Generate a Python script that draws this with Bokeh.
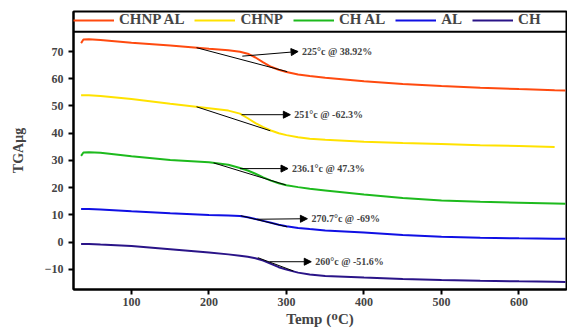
from bokeh.plotting import figure
from bokeh.models import Legend, LegendItem, Arrow, NormalHead, Label, FixedTicker, Span
from bokeh.embed import file_html
from bokeh.resources import INLINE

nan = float("nan")

# ---- data ----
temp    = [35, 38, 45, 60, 100, 150, 200, 225, 240, 250, 260, 270, 280, 290, 300, 315, 330, 350, 400, 450, 500, 550, 600, 646, 660]
chnp_al = [73.1, 74.4, 74.5, 74.2, 73.2, 72.2, 71.0, 70.5, 69.9, 69.2, 67.8, 66.0, 64.4, 63.3, 62.5, 61.6, 61.0, 60.4, 59.1, 58.1, 57.3, 56.7, 56.2, 55.8, 55.7]
chnp    = [53.9, 53.9, 53.9, 53.7, 52.6, 50.8, 49.2, 48.3, 47.2, 45.5, 43.7, 42.2, 41.0, 40.0, 39.3, 38.5, 38.0, 37.6, 36.9, 36.4, 36.0, 35.6, 35.3, 34.9, nan]
ch_al   = [31.7, 32.9, 33.0, 32.8, 31.5, 30.2, 29.3, 28.4, 27.2, 26.3, 25.1, 23.8, 22.6, 21.6, 20.9, 20.2, 19.6, 19.0, 17.5, 16.2, 15.3, 14.8, 14.5, 14.2, 14.1]
al      = [12.2, 12.2, 12.2, 12.0, 11.3, 10.6, 10.0, 9.8, 9.6, 9.1, 8.5, 7.8, 7.1, 6.4, 5.8, 5.2, 4.8, 4.3, 3.5, 2.6, 2.0, 1.6, 1.4, 1.25, 1.2]
ch      = [-0.7, -0.7, -0.7, -0.9, -1.4, -2.6, -3.8, -4.5, -5.0, -5.4, -5.9, -6.8, -8.0, -9.2, -10.1, -11.2, -11.9, -12.4, -13.0, -13.5, -13.9, -14.2, -14.4, -14.55, -14.6]

series_names = ["CHNP AL", "CHNP", "CH AL", "AL", "CH"]
series_values = [chnp_al, chnp, ch_al, al, ch]
series_colors = ["#FF4A0F", "#FFE200", "#1DBA1D", "#1010E4", "#2A1488"]

# tangent lines: (x0, y0) -> (x1, y1)
tan_x0 = [184, 184, 206, 241, 263]
tan_y0 = [71.4, 49.7, 29.1, 9.7, -5.7]
tan_x1 = [301, 279, 299, 301, 309]
tan_y1 = [62.6, 40.9, 21.0, 5.6, -10.6]
# arrows
arr_x0 = [243, 242, 240, 262, 278]
arr_y0 = [68.3, 46.8, 27.0, 8.4, -7.2]
arr_x1 = [315, 305, 302, 327, 332]
arr_y1 = [70.0, 46.8, 27.0, 8.6, -7.2]
ann_text = ["225°c @ 38.92%", "251°c @ -62.3%", "236.1°c @ 47.3%", "270.7°c @ -69%", "260°c @ -51.6%"]

x_ticks = [100, 200, 300, 400, 500, 600]
y_ticks = [-10, 0, 10, 20, 30, 40, 50, 60, 70]
legend_bottom = 77.3

FONT = "Liberation Serif"

p = figure(width=567, height=333, output_backend="svg", toolbar_location=None,
           x_range=(25.2, 661.3), y_range=(-17.4, 84.7),
           min_border_left=73, min_border_right=1, min_border_top=11, min_border_bottom=44)
p.xgrid.visible = False
p.ygrid.visible = False
p.outline_line_color = "black"
p.outline_line_width = 2

items = []
for name, vals, col in zip(series_names, series_values, series_colors):
    r = p.line(temp, vals, line_color=col, line_width=2)
    items.append(LegendItem(label=name, renderers=[r]))

p.segment(tan_x0, tan_y0, tan_x1, tan_y1, line_color="black", line_width=1)
for x0, y0, x1, y1, t in zip(arr_x0, arr_y0, arr_x1, arr_y1, ann_text):
    p.add_layout(Arrow(x_start=x0, y_start=y0, x_end=x1, y_end=y1, line_color="black", line_width=1,
                       end=NormalHead(size=7, fill_color="black", line_color="black")))
    p.add_layout(Label(x=x1, y=y1, text=t, x_offset=4, text_baseline="middle",
                       text_font=FONT, text_font_style="bold", text_font_size="10px"))

p.add_layout(Span(location=legend_bottom, dimension="width", line_color="black", line_width=2))

for ax in (p.xaxis[0], p.yaxis[0]):
    ax.axis_line_width = 2
    ax.major_tick_line_width = 2
    ax.major_tick_out = 5
    ax.major_tick_in = 0
    ax.minor_tick_line_color = None
    ax.major_label_text_font = FONT
    ax.major_label_text_font_style = "bold"
    ax.major_label_text_font_size = "12px"
    ax.axis_label_text_font = FONT
    ax.axis_label_text_font_style = "bold"
p.xaxis.ticker = FixedTicker(ticks=x_ticks)
p.yaxis.ticker = FixedTicker(ticks=y_ticks)
p.xaxis.major_label_standoff = 3
p.xaxis.axis_label = "Temp (ᴼC)"
p.xaxis.axis_label_text_font_size = "15px"
p.xaxis.axis_label_standoff = 2
p.yaxis.axis_label = "TGAμg"
p.yaxis.axis_label_text_font_size = "14px"
p.yaxis.axis_label_standoff = 16

legend = Legend(items=items, orientation="horizontal", location="top_left",
                border_line_color=None, background_fill_alpha=0, margin=0, padding=3,
                spacing=10, glyph_width=41, label_standoff=5,
                label_text_font=FONT, label_text_font_style="bold", label_text_font_size="15px",
                glyph_height=14, label_height=14)
p.add_layout(legend)

open("out.html", "w").write(file_html(p, INLINE))
